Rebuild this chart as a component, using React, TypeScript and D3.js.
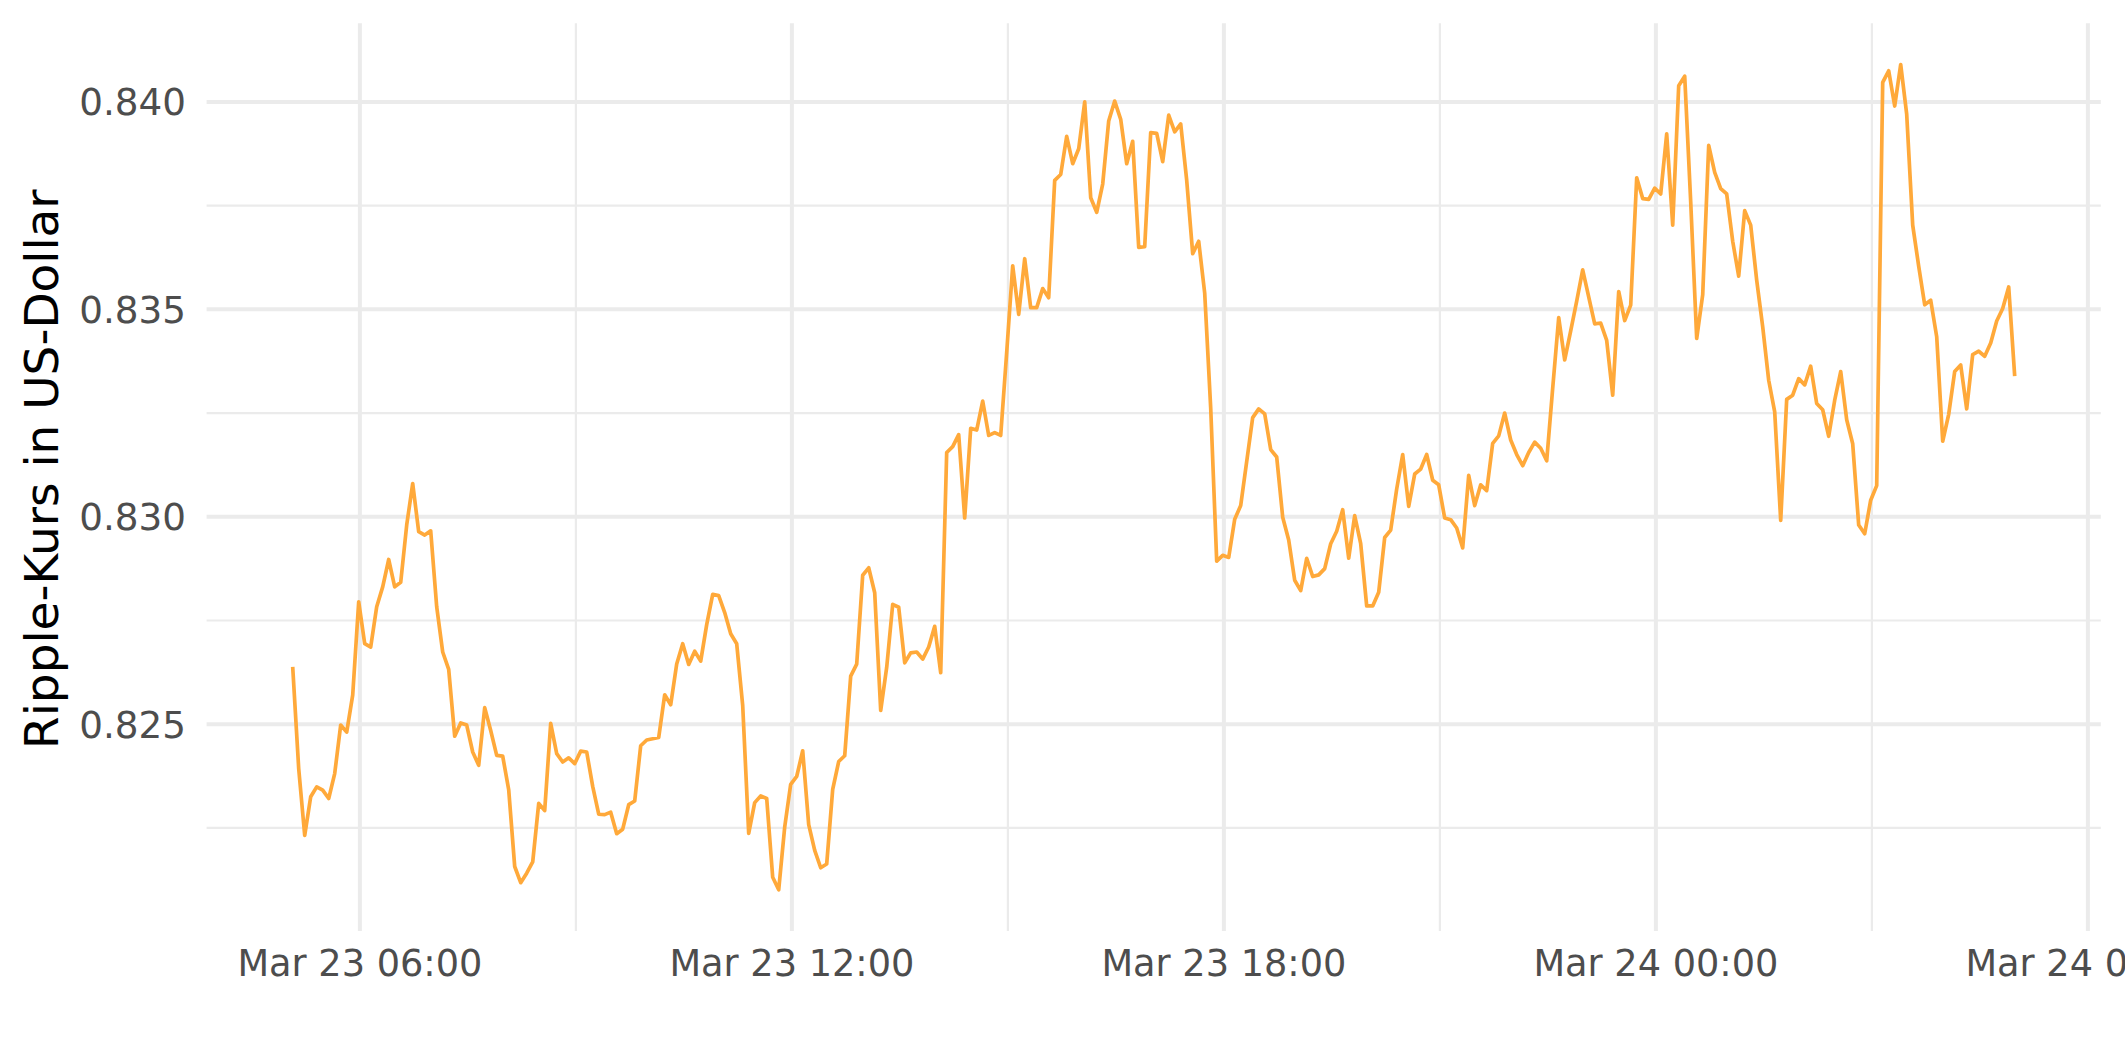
import React from "react";
import * as d3 from "d3";

// ---- data ----
const startTime = new Date(2022, 2, 23, 5, 4); // first observation
const stepMinutes = 5; // sampling interval of the series

const prices: number[] = [
  0.82638, 0.82393, 0.82232, 0.82325, 0.82349, 0.82341, 0.82321, 0.82381, 0.82498, 0.82481,
  0.82570, 0.82795, 0.82694, 0.82686, 0.82783, 0.82831, 0.82897, 0.82831, 0.82842, 0.82980,
  0.83080, 0.82964, 0.82956, 0.82966, 0.82783, 0.82674, 0.82632, 0.82471, 0.82503, 0.82498,
  0.82433, 0.82401, 0.82540, 0.82485, 0.82425, 0.82423, 0.82342, 0.82157, 0.82118, 0.82141,
  0.82168, 0.82309, 0.82292, 0.82502, 0.82429, 0.82409, 0.82419, 0.82405, 0.82435, 0.82433,
  0.82350, 0.82283, 0.82282, 0.82288, 0.82236, 0.82247, 0.82306, 0.82315, 0.82448, 0.82462,
  0.82465, 0.82468, 0.82571, 0.82547, 0.82645, 0.82694, 0.82644, 0.82676, 0.82652, 0.82740,
  0.82813, 0.82810, 0.82769, 0.82718, 0.82694, 0.82545, 0.82237, 0.82311, 0.82327, 0.82321,
  0.82131, 0.82101, 0.82252, 0.82355, 0.82374, 0.82436, 0.82258, 0.82196, 0.82154, 0.82163,
  0.82343, 0.82410, 0.82424, 0.82616, 0.82645, 0.82859, 0.82877, 0.82817, 0.82533, 0.82637,
  0.82789, 0.82782, 0.82648, 0.82672, 0.82674, 0.82657, 0.82686, 0.82736, 0.82624, 0.83155,
  0.83169, 0.83198, 0.82997, 0.83213, 0.83209, 0.83279, 0.83196, 0.83203, 0.83196, 0.83396,
  0.83605, 0.83488, 0.83622, 0.83504, 0.83504, 0.83550, 0.83528, 0.83811, 0.83825, 0.83917,
  0.83851, 0.83887, 0.84000, 0.83769, 0.83734, 0.83802, 0.83954, 0.84002, 0.83958, 0.83851,
  0.83905, 0.83649, 0.83651, 0.83926, 0.83924, 0.83856, 0.83968, 0.83928, 0.83947, 0.83811,
  0.83634, 0.83664, 0.83539, 0.83262, 0.82893, 0.82907, 0.82902, 0.82994, 0.83027, 0.83133,
  0.83239, 0.83260, 0.83248, 0.83162, 0.83144, 0.82999, 0.82944, 0.82847, 0.82822, 0.82900,
  0.82856, 0.82860, 0.82875, 0.82935, 0.82965, 0.83017, 0.82900, 0.83003, 0.82935, 0.82785,
  0.82785, 0.82818, 0.82950, 0.82968, 0.83067, 0.83150, 0.83025, 0.83103, 0.83115, 0.83150,
  0.83088, 0.83077, 0.82997, 0.82993, 0.82973, 0.82925, 0.83100, 0.83027, 0.83077, 0.83063,
  0.83177, 0.83195, 0.83250, 0.83185, 0.83150, 0.83123, 0.83155, 0.83180, 0.83165, 0.83135,
  0.83310, 0.83480, 0.83378, 0.83448, 0.83520, 0.83595, 0.83530, 0.83465, 0.83467, 0.83425,
  0.83293, 0.83543, 0.83473, 0.83510, 0.83817, 0.83767, 0.83765, 0.83792, 0.83778, 0.83923,
  0.83703, 0.84039, 0.84062, 0.83759, 0.83430, 0.83535, 0.83895, 0.83830, 0.83791, 0.83778,
  0.83664, 0.83580, 0.83738, 0.83703, 0.83570, 0.83458, 0.83329, 0.83253, 0.82991, 0.83283,
  0.83293, 0.83333, 0.83318, 0.83363, 0.83273, 0.83258, 0.83194, 0.83281, 0.83350, 0.83234,
  0.83176, 0.82980, 0.82959, 0.83040, 0.83075, 0.84047, 0.84075, 0.83990, 0.84090, 0.83970,
  0.83703, 0.83604, 0.83511, 0.83522, 0.83434, 0.83182, 0.83247, 0.83350, 0.83366, 0.83260,
  0.83391, 0.83399, 0.83387, 0.83419, 0.83472, 0.83502, 0.83554, 0.83339,
];

const yMajorTicks = [0.825, 0.83, 0.835, 0.84];
const yTickLabels = ["0.825", "0.830", "0.835", "0.840"];
const yMinorTicks = [0.8225, 0.8275, 0.8325, 0.8375];

const xMajorTicks = [
  new Date(2022, 2, 23, 6),
  new Date(2022, 2, 23, 12),
  new Date(2022, 2, 23, 18),
  new Date(2022, 2, 24, 0),
  new Date(2022, 2, 24, 6),
];
const xTickLabels = ["Mar 23 06:00", "Mar 23 12:00", "Mar 23 18:00", "Mar 24 00:00", "Mar 24 06:00"];
const xMinorTicks = [
  new Date(2022, 2, 23, 9),
  new Date(2022, 2, 23, 15),
  new Date(2022, 2, 23, 21),
  new Date(2022, 2, 24, 3),
];

const yTitle = "Ripple-Kurs in US-Dollar";

// ---- layout ----
const W = 2125;
const H = 1062;
const panel = { left: 206.6, right: 2100.8, top: 23.3, bottom: 931 };
const FONT = "'DejaVu Sans', sans-serif";
const GRID = "#EBEBEB";
const LINE_COLOR = "#FFA93A";

export default function App() {
  const times = prices.map((_, i) => d3.timeMinute.offset(startTime, i * stepMinutes));
  const [t0, t1] = d3.extent(times) as [Date, Date];
  const span = +t1 - +t0;
  const x = d3
    .scaleTime()
    .domain([new Date(+t0 - 0.05 * span), new Date(+t1 + 0.05 * span)])
    .range([panel.left, panel.right]);
  const [v0, v1] = d3.extent(prices) as [number, number];
  const vr = v1 - v0;
  const y = d3
    .scaleLinear()
    .domain([v0 - 0.05 * vr, v1 + 0.05 * vr])
    .range([panel.bottom, panel.top]);

  const line = d3
    .line<number>()
    .x((_, i) => x(times[i]))
    .y((d) => y(d));

  return (
    <svg
      width={W}
      height={H}
      style={{ position: "absolute", left: 0, top: 0, background: "#ffffff" }}
      xmlns="http://www.w3.org/2000/svg"
    >
      <rect x={0} y={0} width={W} height={H} fill="#ffffff" />
      {/* minor grid */}
      {yMinorTicks.map((v) => (
        <line key={"ym" + v} x1={panel.left} x2={panel.right} y1={y(v)} y2={y(v)} stroke={GRID} strokeWidth={2.2} />
      ))}
      {xMinorTicks.map((t) => (
        <line key={"xm" + +t} x1={x(t)} x2={x(t)} y1={panel.top} y2={panel.bottom} stroke={GRID} strokeWidth={2.2} />
      ))}
      {/* major grid */}
      {yMajorTicks.map((v) => (
        <line key={"yM" + v} x1={panel.left} x2={panel.right} y1={y(v)} y2={y(v)} stroke={GRID} strokeWidth={4} />
      ))}
      {xMajorTicks.map((t) => (
        <line key={"xM" + +t} x1={x(t)} x2={x(t)} y1={panel.top} y2={panel.bottom} stroke={GRID} strokeWidth={4} />
      ))}
      {/* series */}
      <path
        d={line(prices) || ""}
        fill="none"
        stroke={LINE_COLOR}
        strokeWidth={3.7}
        strokeLinejoin="round"
        strokeLinecap="butt"
      />
      {/* y tick labels */}
      {yMajorTicks.map((v, i) => (
        <text
          key={"yl" + v}
          x={186}
          y={y(v) + 13.6}
          textAnchor="end"
          fontFamily={FONT}
          fontSize={37.3}
          fill="#4D4D4D"
        >
          {yTickLabels[i]}
        </text>
      ))}
      {/* x tick labels */}
      {xMajorTicks.map((t, i) => (
        <text
          key={"xl" + +t}
          x={x(t)}
          y={975.7}
          textAnchor="middle"
          fontFamily={FONT}
          fontSize={36.7}
          fill="#4D4D4D"
        >
          {xTickLabels[i]}
        </text>
      ))}
      {/* y axis title */}
      <text
        transform={`translate(58, ${(panel.top + panel.bottom) / 2 - 8}) rotate(-90)`}
        textAnchor="middle"
        fontFamily={FONT}
        fontSize={47}
        fill="#000000"
      >
        {yTitle}
      </text>
    </svg>
  );
}
